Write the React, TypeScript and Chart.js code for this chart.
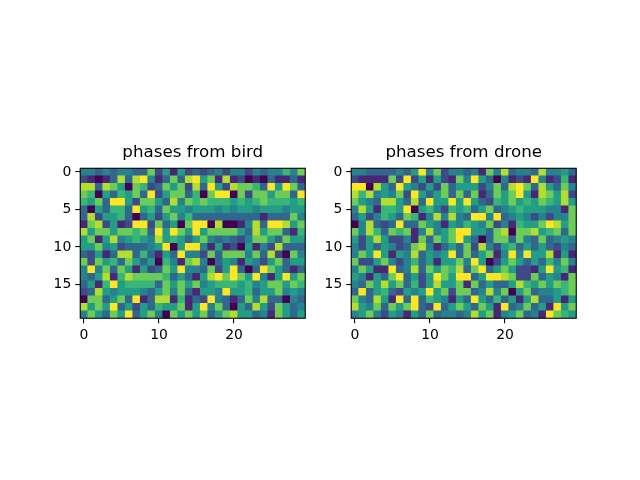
import { useEffect, useRef } from 'react'
import { Chart, registerables } from 'chart.js'

Chart.register(...registerables)

// phase values per row, one digit per column (0 = lowest, 9 = highest)
const birdRows = [
  '443434433725152323424424344647',
  '210138389413738957181201031131',
  '883875076237572839528776395973',
  '760536573925773607990727757739',
  '657399527753847676665656766656',
  '305366395637554555454554555455',
  '382556303525746333333333133374',
  '178251299273507990800148399857',
  '857757767395975957777538577316',
  '571584565485653574343247753755',
  '557452333459059941512051428333',
  '325138836315394427377747382074',
  '727563753506417840354154257355',
  '494737515237594437259303975313',
  '435816877776353158979759415957',
  '351695666637575745666564577576',
  '238545554357473155495563557454',
  '077357391388161329431374833043',
  '857593525365571594730538527534',
  '475375935740757573578553417535',
]

const droneRows = [
  '443333435947244341748344384453',
  '211117292515217495304121941261',
  '990853954252735552473897385374',
  '868454729535737371375795187582',
  '754388538395595953265756576585',
  '485166590564265635734565554417',
  '352465376148484399493454242447',
  '048323933754154654724165579857',
  '748637671484579955378077856737',
  '525852241737579530377374373454',
  '425354237841353728425635353243',
  '475951548354593735714949558151',
  '722574246351557495025753536474',
  '475119348375768379357522159561',
  '541537935259759935998722735417',
  '437585736258557173533586575767',
  '393563254595727734847057344567',
  '743851939365415395363515833515',
  '854737579329357537519347351957',
  '457425415373443485714573419765',
]

const xTicks = [0, 10, 20]
const yTicks = [0, 5, 10, 15]
const vmin = 0
const vmax = 9

const VIRIDIS = [
  [68, 1, 84], [71, 44, 122], [59, 81, 139], [44, 113, 142], [33, 144, 140],
  [39, 173, 129], [92, 200, 99], [170, 220, 50], [253, 231, 37],
]

function viridis(v: number) {
  const t = Math.min(1, Math.max(0, (v - vmin) / (vmax - vmin))) * (VIRIDIS.length - 1)
  const i = Math.min(VIRIDIS.length - 2, Math.floor(t))
  const f = t - i
  const c = VIRIDIS[i].map((a, k) => Math.round(a + (VIRIDIS[i + 1][k] - a) * f))
  return `rgb(${c[0]},${c[1]},${c[2]})`
}

// axes box drawn over the image, like matplotlib spines
const frame = {
  id: 'frame',
  afterDatasetsDraw(chart: any) {
    const { ctx, chartArea: a } = chart
    ctx.save()
    ctx.strokeStyle = '#000'
    ctx.lineWidth = 1.1
    ctx.strokeRect(a.left, a.top, a.right - a.left, a.bottom - a.top)
    ctx.restore()
  },
}

function toCells(rows: string[]) {
  const cells: { x: number; y: [number, number]; v: number }[] = []
  rows.forEach((row, r) => {
    row.split('').forEach((ch, c) => {
      cells.push({ x: c, y: [r - 0.5, r + 0.5], v: Number(ch) })
    })
  })
  return cells
}

const FONT = 'DejaVu Sans'

function Heatmap({ title, rows, left }: { title: string; rows: string[]; left: number }) {
  const ref = useRef<HTMLCanvasElement>(null)

  useEffect(() => {
    if (!ref.current) return
    const nCols = rows[0].length
    const nRows = rows.length
    const tickOpts = { color: '#000', font: { family: FONT, size: 13.9 }, padding: 4 }
    const gridOpts = {
      drawOnChartArea: false, drawTicks: true, tickLength: 5,
      color: '#000', lineWidth: 1.1, offset: false,
    }
    const chart = new Chart(ref.current, {
      type: 'bar',
      data: {
        datasets: [{
          data: toCells(rows) as any,
          backgroundColor: (ctx: any) => (ctx.raw ? viridis(ctx.raw.v) : '#000'),
          borderWidth: 0,
          borderSkipped: false,
          barPercentage: 1,
          categoryPercentage: 1,
          grouped: false,
        }],
      },
      options: {
        responsive: false,
        animation: false,
        layout: { padding: { left: 0, right: 14.75, top: 0, bottom: 0 } },
        plugins: {
          legend: { display: false },
          tooltip: { enabled: false },
          title: {
            display: true, text: title, fullSize: false, color: '#000',
            font: { family: FONT, size: 16.7, weight: 'normal' },
            padding: { top: 12.5, bottom: 5.75 },
          },
        },
        scales: {
          x: {
            type: 'linear', offset: false, min: -0.5, max: nCols - 0.5,
            grid: gridOpts, border: { display: false }, ticks: tickOpts,
            afterBuildTicks: (s: any) => { s.ticks = xTicks.map(value => ({ value })) },
            afterFit: (s: any) => { s.height = 21.75 },
          },
          y: {
            type: 'linear', reverse: true, min: -0.5, max: nRows - 0.5,
            grid: gridOpts, border: { display: false }, ticks: tickOpts,
            afterBuildTicks: (s: any) => { s.ticks = yTicks.map(value => ({ value })) },
            afterFit: (s: any) => { s.width = 40.25 },
          },
        },
      },
      plugins: [frame],
    })
    return () => chart.destroy()
  }, [title, rows])

  return (
    <canvas
      ref={ref}
      width={280}
      height={210}
      style={{ position: 'absolute', left, top: 130, width: 280, height: 210 }}
    />
  )
}

export default function App() {
  return (
    <div style={{ position: 'absolute', left: 0, top: 0, width: 640, height: 480, background: '#fff' }}>
      <Heatmap title="phases from bird" rows={birdRows} left={40} />
      <Heatmap title="phases from drone" rows={droneRows} left={311} />
    </div>
  )
}
